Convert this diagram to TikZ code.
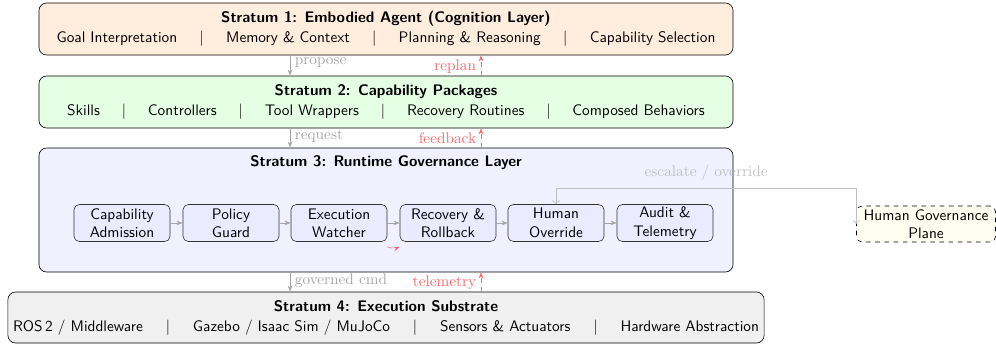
\documentclass[tikz,border=0pt]{standalone}
\usepackage{amsmath,amssymb}
\usepackage{xcolor}
\usepackage{tikz}
\usetikzlibrary{arrows.meta,calc}

\newcommand{\sepbar}[1][1.46em]{\hspace{#1}|\hspace{#1}}

\begin{document}
\begin{tikzpicture}[x=0.023cm,y=0.023cm]
\tikzstyle{every node}+=[font=\sffamily]
\tikzstyle{stratum}=[draw=black, rounded corners=5pt, align=center, minimum width=15.96cm, minimum height=1.196cm, inner sep=0pt]
\tikzstyle{module}=[draw=black!80, fill=blue!8, rounded corners=3.5pt, align=center, minimum width=2.208cm, minimum height=0.851cm, inner sep=0pt]
\tikzstyle{flow}=[draw=black!35, -{Stealth[length=4pt,width=3pt]}]
\tikzstyle{back}=[draw=red!60, dashed, -{Stealth[length=4pt,width=3pt]}]
\tikzstyle{lbl}=[font=\rmfamily, inner sep=3pt]
\useasboundingbox (0,0) rectangle (996,-345);
\node [stratum, fill=orange!13] (s1) at (386,-29) {\textbf{Stratum 1: Embodied Agent (Cognition Layer)}\\[1pt]Goal Interpretation\sepbar Memory \& Context\sepbar Planning \& Reasoning\sepbar Capability Selection};
\node [stratum, fill=green!10] (s2) at (386,-102) {\textbf{Stratum 2: Capability Packages}\\[1pt]Skills\sepbar[1.43em]Controllers\sepbar[1.43em]Tool Wrappers\sepbar[1.43em]Recovery Routines\sepbar[1.43em]Composed Behaviors};
\node [stratum, fill=blue!6, minimum height=2.852cm] (s3) at (386,-210) {};
\node [font=\sffamily\bfseries] (s3t) at ($(s3.north)+(0,-15)$) {Stratum 3: Runtime Governance Layer};
\node [stratum, fill=black!6, minimum width=17.388cm, minimum height=1.173cm] (s4) at (386,-317.5) {\textbf{Stratum 4: Execution Substrate}\\[1pt]ROS\,2 / Middleware\sepbar[1.5em]Gazebo / Isaac Sim / MuJoCo\sepbar[1.5em]Sensors \& Actuators\sepbar[1.5em]Hardware Abstraction};
\node [module] (admit) at (122,-223) {Capability\\Admission};
\node [module] (guard) at (231,-223) {Policy\\Guard};
\node [module] (watcher) at (339,-223) {Execution\\Watcher};
\node [module] (recovery) at (448,-223) {Recovery \&\\Rollback};
\node [module] (override) at (556,-223) {Human\\Override};
\node [module] (audit) at (665,-223) {Audit \&\\Telemetry};
\node [draw=black, dashed, fill=yellow!6, rounded corners=3.5pt, align=center, minimum width=3.197cm, minimum height=0.828cm, inner sep=0pt] (hgp) at (926,-224) {Human Governance\\Plane};
\draw [flow] ($(s1.south)+(-96,0)$) -- node [lbl, right, pos=0.35, text=black!35] {propose} ($(s2.north)+(-96,0)$);
\draw [back] ($(s2.north)+(95,0)$) -- node [lbl, left, pos=0.45, text=red!60] {replan} ($(s1.south)+(95,0)$);
\draw [flow] ($(s2.south)+(-96,0)$) -- node [lbl, right, pos=0.4, text=black!35] {request} ($(s3.north)+(-96,0)$);
\draw [back] ($(s3.north)+(95,0)$) -- node [lbl, left, text=red!60] {feedback} ($(s2.south)+(95,0)$);
\draw [flow] ($(s3.south)+(-96,0)$) -- node [lbl, right, pos=0.45, text=black!35] {governed cmd} ($(s4.north)+(-96,0)$);
\draw [back] ($(s4.north)+(95,0)$) -- node [lbl, left, pos=0.45, text=red!60] {telemetry} ($(s3.south)+(95,0)$);
\draw [flow] (admit) -- (guard);
\draw [flow] (guard) -- (watcher);
\draw [flow] (watcher) -- (recovery);
\draw [flow] (recovery) -- (override);
\draw [flow] (override) -- (audit);
\draw [back] ($(watcher.south east)+(0,-5)$) to [bend right=20] ($(recovery.south west)+(0,-5)$);
\draw [draw=black!25, <->] (override.north) -- ++(0,16) -| node [lbl, pos=0.25, above=2pt, text=black!25] {escalate / override} (hgp.west);
\end{tikzpicture}
\end{document}
